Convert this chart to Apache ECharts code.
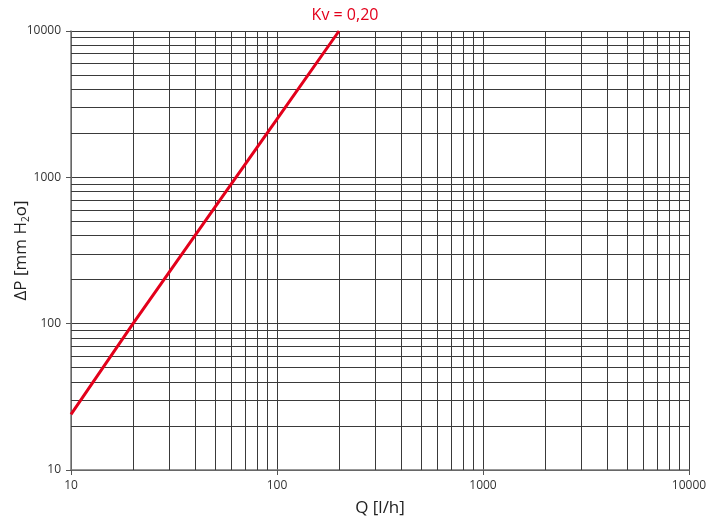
<!DOCTYPE html>
<html><head><meta charset="utf-8">
<script src="https://cdn.jsdelivr.net/npm/echarts@6/dist/echarts.min.js"></script>
<style>html,body{margin:0;padding:0;background:#fff}#c{width:713px;height:517px}</style>
</head><body><div id="c"></div>
<script>
const flowQ = [10, 20, 50, 100, 200];
const deltaP = [24, 100, 625, 2500, 10000];
const xMinorGrid = [20,30,40,50,60,70,80,90,200,300,400,500,600,700,800,900,2000,3000,4000,5000,6000,7000,8000,9000];
const yMinorGrid = [20,30,40,50,60,70,80,90,200,300,400,500,600,700,800,900,2000,3000,4000,5000,6000,7000,8000,9000];
const seriesLabel = 'Kv = 0,20';

const font = '"Open Sans", "Noto Sans", sans-serif';
const gridColor = '#3a3a3a';
const chart = echarts.init(document.getElementById('c'), null, {renderer:'canvas'});
const lineData = flowQ.map((q,i)=>[q, deltaP[i]]);
const last = lineData[lineData.length-1];
chart.setOption({
  animation:false,
  grid:{left:71, right:24, top:31, bottom:47, containLabel:false, outerBoundsMode:'none'},
  xAxis:{type:'log', min:10, max:10000, logBase:10,
    name:'Q [l/h]', nameLocation:'middle', nameGap:30, nameMoveOverlap:false,
    nameTextStyle:{fontSize:17, color:'#222', fontFamily:font},
    axisLine:{show:true, lineStyle:{color:'#777', width:1.5}},
    axisTick:{show:true, length:5, lineStyle:{color:'#555'}},
    axisLabel:{fontSize:12, color:'#333', fontFamily:font, margin:10, formatter:v=>String(v)},
    splitLine:{show:true, lineStyle:{color:gridColor, width:1}}},
  yAxis:{type:'log', min:10, max:10000, logBase:10,
    name:'ΔP [mm H{sub|2}o]', nameLocation:'middle', nameGap:40, nameRotate:90, nameMoveOverlap:false,
    nameTextStyle:{fontSize:17, color:'#222', fontFamily:font,
      rich:{sub:{fontSize:10, color:'#222', fontFamily:font, verticalAlign:'bottom', padding:[10,0,0,0]}}},
    axisLine:{show:true, lineStyle:{color:'#777', width:1.5}},
    axisTick:{show:true, length:5, lineStyle:{color:'#555'}},
    axisLabel:{fontSize:12, color:'#333', fontFamily:font, margin:10, formatter:v=>String(v)},
    splitLine:{show:true, lineStyle:{color:gridColor, width:1}}},
  series:[
    {type:'line', data:[], silent:true,
     markLine:{silent:true, symbol:'none', animation:false, label:{show:false},
       lineStyle:{color:gridColor, width:1, type:'solid'},
       data: xMinorGrid.map(v=>({xAxis:v})).concat(yMinorGrid.map(v=>({yAxis:v})))}},
    {type:'line', data:lineData, showSymbol:false, symbol:'none', z:5,
     lineStyle:{color:'#e3001b', width:3}, itemStyle:{color:'#e3001b'},
     markPoint:{silent:true, symbol:'circle', symbolSize:1, itemStyle:{color:'rgba(0,0,0,0)'},
       label:{show:true, position:'top', distance:7, offset:[6,0], formatter: seriesLabel, color:'#e3001b', fontSize:16, fontFamily:font},
       data:[{coord: last}]}}
  ]
});
</script></body></html>
